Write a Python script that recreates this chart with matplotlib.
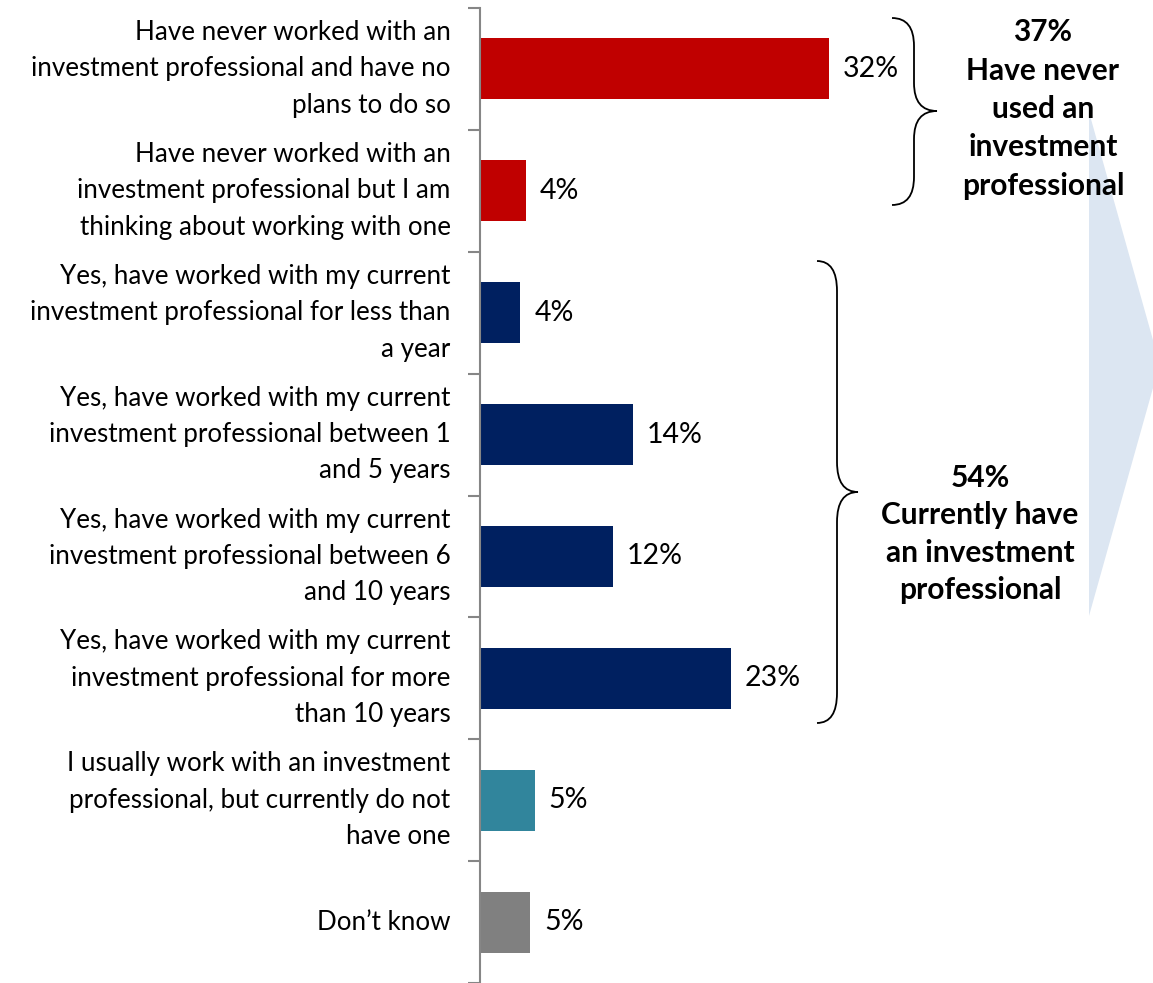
import matplotlib.pyplot as plt
from matplotlib.path import Path
from matplotlib.patches import PathPatch, Polygon

plt.rcParams['font.family'] = ['Lato', 'DejaVu Sans']

# Data
categories = [
    "Have never worked with an\ninvestment professional and have no\nplans to do so",
    "Have never worked with an\ninvestment professional but I am\nthinking about working with one",
    "Yes, have worked with my current\ninvestment professional for less than\na year",
    "Yes, have worked with my current\ninvestment professional between 1\nand 5 years",
    "Yes, have worked with my current\ninvestment professional between 6\nand 10 years",
    "Yes, have worked with my current\ninvestment professional for more\nthan 10 years",
    "I usually work with an investment\nprofessional, but currently do not\nhave one",
    "Don\u2019t know",
]
values = [32.0, 4.2, 3.7, 14.0, 12.2, 23.0, 5.0, 4.6]
colors = ["#C00000", "#C00000", "#002060", "#002060", "#002060", "#002060", "#31859C", "#808080"]
group_never = "37%\nHave never\nused an\ninvestment\nprofessional"
group_current = "54%\nCurrently have\nan investment\nprofessional"

W, H = 1153, 983
fig = plt.figure(figsize=(W / 100, H / 100), dpi=100)


def px(x, y):
    return (x / W, 1 - y / H)


# background arrow shape
arrow = Polygon([px(1089, 112), px(1153, 340), px(1153, 388), px(1089, 616)],
                closed=True, transform=fig.transFigure, facecolor="#DCE6F2",
                edgecolor="none", zorder=0)
fig.patches.append(arrow)

ax = fig.add_axes([480 / W, 0, 1 - 480 / W, 975 / H])
ax.set_facecolor("none")
y = list(range(len(values)))
ax.barh(y, values, height=0.5, color=colors, zorder=2)
ax.set_xlim(0, (W - 480) / 10.9)
ax.set_ylim(len(values) - 0.5, -0.5)

for yi, v in zip(y, values):
    ax.text(v + 1.3, yi, f"{round(v)}%", va="center", ha="left", fontsize=20.5)

ax.set_yticks([i - 0.5 for i in range(len(values) + 1)])
ax.set_yticklabels([])
ax.tick_params(axis="y", length=9, width=1.5, color="#868686")
ax.set_xticks([])
for s in ["top", "right", "bottom"]:
    ax.spines[s].set_visible(False)
ax.spines["left"].set_color("#868686")
ax.spines["left"].set_linewidth(1.5)

for yi, lab in zip(y, categories):
    ax.text(-2.7, yi, lab, ha="right", va="center", fontsize=18.7,
            linespacing=1.57, color="black")


def brace(x0, x1, x2, yt, ym, yb, r):
    pts = [(x0, yt), (x1, yt), (x1, yt + r), (x1, ym - r), (x1, ym), (x2, ym),
           (x1, ym), (x1, ym + r), (x1, yb - r), (x1, yb), (x0, yb)]
    codes = [Path.MOVETO, Path.CURVE3, Path.CURVE3, Path.LINETO, Path.CURVE3, Path.CURVE3,
             Path.CURVE3, Path.CURVE3, Path.LINETO, Path.CURVE3, Path.CURVE3]
    path = Path([px(a, b) for a, b in pts], codes)
    fig.patches.append(PathPatch(path, transform=fig.transFigure, fill=False,
                                 edgecolor="black", linewidth=1.3))


brace(892, 914, 937, 18, 111, 205, 28)
brace(817, 837, 858, 261, 492, 723, 30)

fig.text(*px(1043, 109), group_never, ha="center", va="center", fontsize=21.5,
         fontweight="bold", linespacing=1.45)
fig.text(*px(980, 534), group_current, ha="center", va="center", fontsize=21.5,
         fontweight="bold", linespacing=1.42)

fig.savefig("out.png", dpi=100)
